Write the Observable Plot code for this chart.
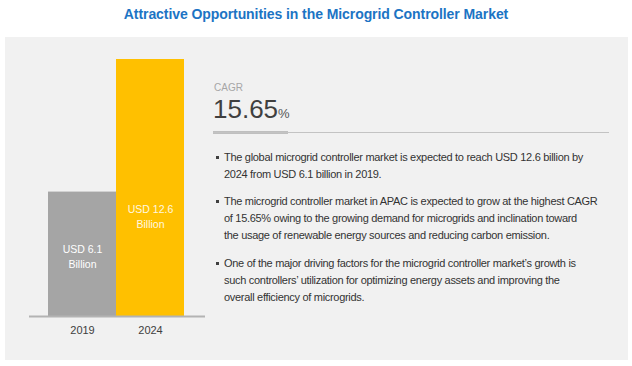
<!DOCTYPE html>
<html>
<head>
<meta charset="utf-8">
<script src="https://cdn.jsdelivr.net/npm/d3@7"></script>
<script src="https://cdn.jsdelivr.net/npm/@observablehq/plot@0.6"></script>
<style>
  html, body { margin: 0; padding: 0; background: #ffffff; }
  #page { position: relative; width: 632px; height: 366px; overflow: hidden; }
  #title { position: absolute; left: 0; top: 0; width: 632px; height: 28px; line-height: 28px; text-align: center;
           font-family: "Liberation Sans", sans-serif; font-weight: bold; font-size: 15.5px; color: #1c74c4;
           transform: scaleX(0.905); transform-origin: 316px 14px; letter-spacing: -0.1px; }
  #panel { position: absolute; left: 5px; top: 37px; width: 623px; height: 323px; background: #f1f1f1; }
  #chart { position: absolute; left: 0; top: 37px; }
  #cagrLabel { position: absolute; left: 214px; top: 82.5px; font-family: "Liberation Sans", sans-serif; font-size: 10px; line-height: 10px; color: #a6a6a6; }
  #cagrValue { position: absolute; left: 213px; top: 95.7px; font-family: "Liberation Sans", sans-serif; font-size: 26px; line-height: 26px; color: #3f3f3f; white-space: nowrap; }
  #cagrValue .pct { font-family: "Liberation Sans", sans-serif; font-size: 13px; color: #555; }
  #lineThin { position: absolute; left: 213px; top: 132px; width: 396px; height: 1px; background: #c3c3c3; }
  #lineThick { position: absolute; left: 213px; top: 130.5px; width: 75px; height: 3px; background: #bfbfbf; }
  #bullets { position: absolute; left: 224px; top: 148.5px; width: 395px;
             font-family: "Liberation Sans", sans-serif; font-size: 11px; line-height: 17px; color: #333333; letter-spacing: -0.3px; }
  #bullets .item { position: relative; margin-bottom: 10.7px; white-space: nowrap; }
  #bullets .item::before { content: ""; position: absolute; left: -8.5px; top: 7px; width: 3px; height: 3px; background: #404040; }
</style>
</head>
<body>
<div id="page">
  <div id="title"></div>
  <div id="panel"></div>
  <div id="chart"></div>
  <div id="cagrLabel"></div>
  <div id="cagrValue"></div>
  <div id="lineThick"></div>
  <div id="lineThin"></div>
  <div id="bullets"></div>
</div>
<script>
// ---- data ----
const titleText = "Attractive Opportunities in the Microgrid Controller Market";
const years = ["2019", "2024"];
const values = [6.1, 12.6];
const barLabels = ["USD 6.1\nBillion", "USD 12.6\nBillion"];
const barColors = ["#a5a5a5", "#ffc000"];
const cagrLabel = "CAGR";
const cagrValue = "15.65";
const bullets = [
  ["The global microgrid controller market is expected to reach USD 12.6 billion by",
   "2024 from USD 6.1 billion in 2019."],
  ["The microgrid controller market in APAC is expected to grow at the highest CAGR",
   "of 15.65% owing to the growing demand for microgrids and inclination toward",
   "the usage of renewable energy sources and reducing carbon emission."],
  ["One of the major driving factors for the microgrid controller market\u2019s growth is",
   "such controllers\u2019 utilization for optimizing energy assets and improving the",
   "overall efficiency of microgrids."]
];

const data = years.map((y, i) => ({year: y, value: values[i], label: barLabels[i], color: barColors[i]}));

// ---- text parts ----
document.getElementById("title").textContent = titleText;
document.getElementById("cagrLabel").textContent = cagrLabel;
const cv = document.getElementById("cagrValue");
cv.textContent = cagrValue;
const pct = document.createElement("span");
pct.className = "pct";
pct.textContent = "%";
cv.appendChild(pct);
const bl = document.getElementById("bullets");
bullets.forEach(lines => {
  const d = document.createElement("div");
  d.className = "item";
  lines.forEach((ln, i) => {
    if (i > 0) d.appendChild(document.createElement("br"));
    d.appendChild(document.createTextNode(ln));
  });
  bl.appendChild(d);
});

// ---- chart ----
const chart = Plot.plot({
  width: 215,
  height: 323,
  marginLeft: 47,
  marginRight: 31,
  marginTop: 22,
  marginBottom: 44,
  style: {background: "transparent", fontFamily: "Liberation Sans, sans-serif", fontSize: "11px", color: "#404040"},
  x: {domain: years, padding: 0, label: null},
  y: {domain: [0, d3.max(values)], axis: null},
  marks: [
    Plot.barY(data, {x: "year", y: "value", fill: "color"}),
    Plot.ruleY([0], {stroke: "#b3b3b3", strokeWidth: 2, insetLeft: -18, insetRight: -21}),
    Plot.axisX({tickSize: 0, tickPadding: 10, fontSize: 11, fill: "#404040"}),
    Plot.text(data.filter(d => d.year === "2019"), {x: "year", y: "value", text: "label", dy: 64, fill: "#ffffff",
      fontFamily: "Liberation Sans, sans-serif", fontSize: 10.5, lineHeight: 1.4}),
    Plot.text(data.filter(d => d.year === "2024"), {x: "year", y: "value", text: "label", dy: 156, fill: "#fff8e0",
      fontFamily: "Liberation Sans, sans-serif", fontSize: 10.5, lineHeight: 1.4})
  ]
});
document.getElementById("chart").appendChild(chart);
</script>
</body>
</html>
